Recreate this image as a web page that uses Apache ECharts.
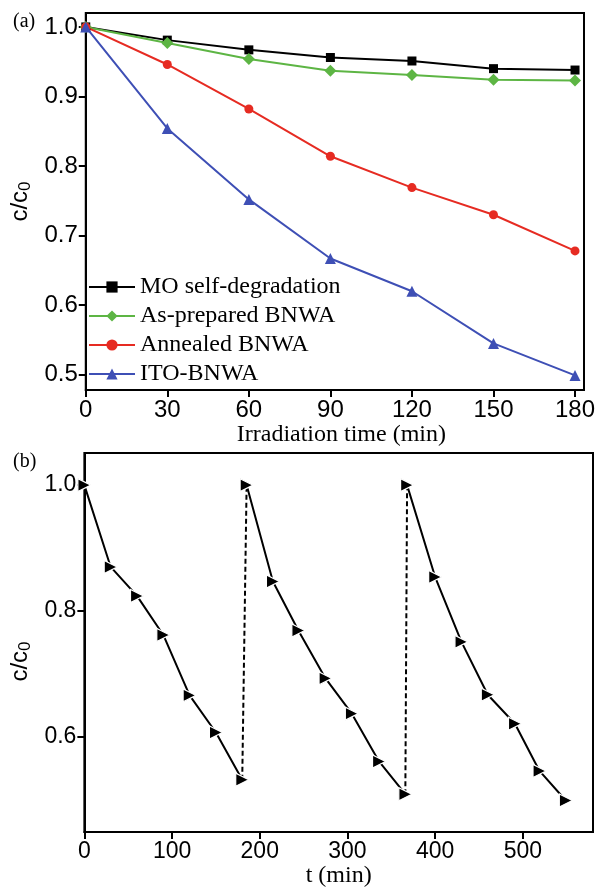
<!DOCTYPE html>
<html>
<head>
<meta charset="utf-8">
<script src="https://cdn.jsdelivr.net/npm/echarts@6/dist/echarts.min.js"></script>
<style>
  html, body { margin: 0; padding: 0; background: #fff; }
  #chart { width: 598px; height: 889px; }
</style>
</head>
<body>
<div id="chart"></div>
<script>
// (a) photodegradation of MO
const timeA = [0, 30, 60, 90, 120, 150, 180];
const moSelf = [1.0, 0.981, 0.967, 0.956, 0.951, 0.940, 0.938];
const asPrepared = [1.0, 0.977, 0.954, 0.937, 0.931, 0.924, 0.923];
const annealed = [1.0, 0.946, 0.882, 0.814, 0.769, 0.730, 0.678];
const itoBnwa = [1.0, 0.854, 0.752, 0.667, 0.620, 0.545, 0.499];
const seriesNamesA = ['MO self-degradation', 'As-prepared BNWA', 'Annealed BNWA', 'ITO-BNWA'];
const xTicksA = [0, 30, 60, 90, 120, 150, 180];
const yTicksA = [0.5, 0.6, 0.7, 0.8, 0.9, 1.0];

// (b) cycling test
const cycle1T = [0, 30, 60, 90, 120, 150, 180];
const cycle1C = [1.0, 0.870, 0.824, 0.762, 0.666, 0.607, 0.532];
const cycle2T = [185, 215, 244, 275, 305, 336, 366];
const cycle2C = [1.0, 0.847, 0.769, 0.693, 0.637, 0.561, 0.509];
const cycle3T = [368, 400, 430, 460, 491, 519, 549];
const cycle3C = [1.0, 0.854, 0.751, 0.667, 0.621, 0.546, 0.499];
const xTicksB = [0, 100, 200, 300, 400, 500];
const yTicksB = [0.6, 0.8, 1.0];

const SANS = 'Liberation Sans';
const SERIF = 'Liberation Serif';

const pairs = (xs, ys) => xs.map((x, i) => [x, ys[i]]);
const last = (xs, ys) => [xs[xs.length - 1], ys[ys.length - 1]];

const chart = echarts.init(document.getElementById('chart'), null, { renderer: 'canvas' });

function axisCommon(ticks, fontSize, fmt) {
  return {
    axisLine: { show: true, onZero: false, lineStyle: { color: '#000', width: 2 } },
    axisTick: { show: true, inside: false, length: 7, lineStyle: { color: '#000', width: 2 }, customValues: ticks },
    axisLabel: { color: '#000', fontFamily: SANS, fontSize: fontSize, customValues: ticks, formatter: fmt },
    splitLine: { show: false }
  };
}

const yName = {
  name: 'c/c{sub|0}',
  nameLocation: 'middle',
  nameRotate: 90,
  nameTextStyle: {
    color: '#000', fontFamily: SANS, fontSize: 24,
    rich: { sub: { fontFamily: SANS, fontSize: 17, color: '#000', padding: [10, 0, 0, 0] } }
  }
};

const lineA = (name, data, color, symbol, size) => ({
  type: 'line', name: name, xAxisIndex: 0, yAxisIndex: 0,
  data: pairs(timeA, data),
  symbol: symbol, symbolSize: size,
  itemStyle: { color: color },
  lineStyle: { color: color, width: 2 },
  animation: false
});

const lineB = (data) => ({
  type: 'line', xAxisIndex: 1, yAxisIndex: 1,
  data: data,
  symbol: 'triangle', symbolSize: 13, symbolRotate: -90,
  itemStyle: { color: '#000', borderColor: '#fff', borderWidth: 1.2 },
  lineStyle: { color: '#000', width: 2 },
  animation: false
});

const option = {
  backgroundColor: '#fff',
  animation: false,
  grid: [
    { left: 83, top: 13, width: 504, height: 377, show: true, borderColor: '#000', borderWidth: 2, backgroundColor: 'transparent' },
    { left: 82, top: 453, width: 511, height: 379, show: true, borderColor: '#000', borderWidth: 2, backgroundColor: 'transparent' }
  ],
  legend: {
    data: seriesNamesA,
    orient: 'vertical',
    left: 83, top: 270,
    itemWidth: 46, itemHeight: 14, itemGap: 5,
    textStyle: { color: '#000', fontFamily: SERIF, fontSize: 24 }
  },
  xAxis: [
    Object.assign({
      type: 'value', gridIndex: 0, min: 0, max: 183.3,
      name: 'Irradiation time (min)', nameLocation: 'middle', nameGap: 30,
      nameTextStyle: { color: '#000', fontFamily: SERIF, fontSize: 24, padding: [0, 0, 0, 13] }
    }, axisCommon(xTicksA, 24, v => String(v))),
    Object.assign({
      type: 'value', gridIndex: 1, min: 0, max: 580,
      name: 't (min)', nameLocation: 'middle', nameGap: 29,
      nameTextStyle: { color: '#000', fontFamily: SERIF, fontSize: 24 }
    }, axisCommon(xTicksB, 23, v => String(v)))
  ],
  yAxis: [
    Object.assign({ type: 'value', gridIndex: 0, min: 0.478, max: 1.02, nameGap: 50 }, yName,
      axisCommon(yTicksA, 24, v => v.toFixed(1))),
    Object.assign({ type: 'value', gridIndex: 1, min: 0.449, max: 1.051, nameGap: 50 }, yName,
      { nameTextStyle: Object.assign({}, yName.nameTextStyle, { padding: [0, 38, 0, 0] }) },
      axisCommon(yTicksB, 23, v => v.toFixed(1)))
  ],
  series: [
    lineA(seriesNamesA[0], moSelf, '#000000', 'rect', 9),
    lineA(seriesNamesA[1], asPrepared, '#5db544', 'diamond', 12),
    lineA(seriesNamesA[2], annealed, '#e62b22', 'circle', 9),
    lineA(seriesNamesA[3], itoBnwa, '#3e4fb5', 'triangle', 11),
    lineB(pairs(cycle1T, cycle1C)),
    lineB(pairs(cycle2T, cycle2C)),
    lineB(pairs(cycle3T, cycle3C)),
    {
      type: 'line', xAxisIndex: 1, yAxisIndex: 1, symbol: 'none', z: 1,
      data: [last(cycle1T, cycle1C), [cycle2T[0], cycle2C[0]], '-', last(cycle2T, cycle2C), [cycle3T[0], cycle3C[0]]],
      connectNulls: false,
      lineStyle: { color: '#000', width: 2, type: [5, 3] },
      animation: false
    }
  ],
  graphic: [
    { type: 'text', left: 13, top: 12, style: { text: '(a)', fill: '#000', font: '20px "Liberation Serif"' } },
    { type: 'text', left: 13, top: 452, style: { text: '(b)', fill: '#000', font: '20px "Liberation Serif"' } }
  ]
};

chart.setOption(option);
</script>
</body>
</html>
